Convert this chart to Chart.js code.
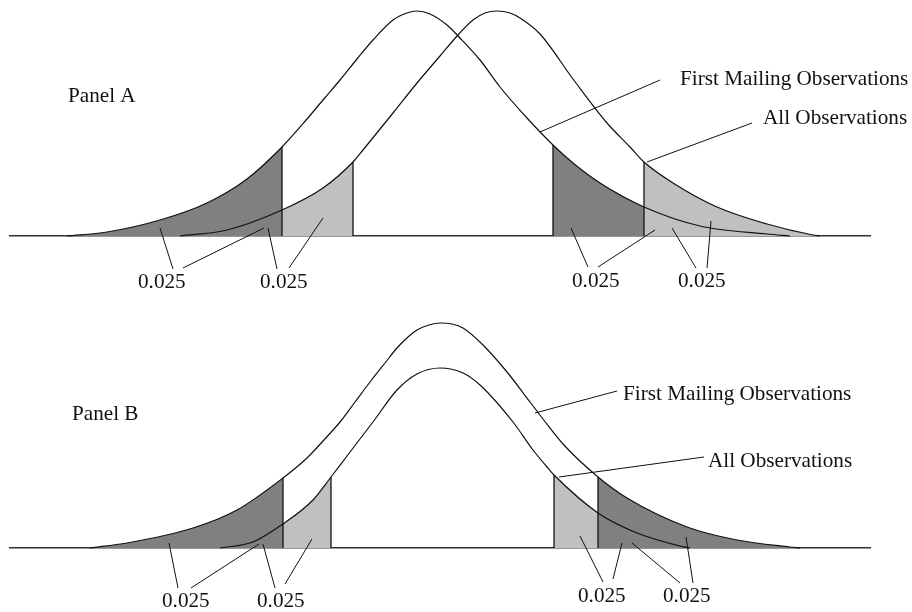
<!DOCTYPE html>
<html>
<head>
<meta charset="utf-8">
<script src="https://cdn.jsdelivr.net/npm/chart.js@4.4.1/dist/chart.umd.min.js"></script>
<style>
  html, body { margin: 0; padding: 0; background: #fff; }
  canvas { position: absolute; left: 0; }
</style>
</head>
<body>
<canvas id="panelA" width="912" height="300" style="top:0px"></canvas>
<canvas id="panelB" width="912" height="300" style="top:312px"></canvas>
<script>
// curve heights, [x, height above baseline]
const firstMailingA = [[67, 0], [107, 4], [160, 16], [207, 33], [247, 57], [282, 89], [307, 117], [323, 136],
  [340, 156], [357, 177], [373, 196], [393, 216], [407, 223], [417, 225], [430, 222], [447, 211], [460, 198],
  [480, 176], [500, 149], [527, 118], [553, 91], [573, 73], [600, 53], [644, 29], [700, 10], [767, 2], [790, 0]];
const allObsA = [[180, 0], [227, 6], [282, 26], [323, 48], [353, 74], [363, 86], [393, 123], [417, 153],
  [440, 180], [458, 201], [473, 216], [485, 223], [497, 225], [510, 223], [520, 218], [540, 202], [573, 157],
  [607, 113], [630, 89], [644, 74], [673, 53], [717, 29], [767, 12], [813, 1], [820, 0]];
const firstMailingB = [[90, 0], [127, 5], [193, 20], [237, 38], [283, 70], [307, 90], [323, 107], [340, 126],
  [355, 146], [370, 166], [385, 185], [397, 200], [408, 211], [417, 218], [429, 223], [440, 225], [452, 224],
  [463, 220], [483, 203], [507, 176], [530, 146], [543, 129], [563, 104], [598, 71], [627, 50], [687, 21],
  [737, 8], [790, 1], [800, 0]];
const allObsB = [[220, 0], [253, 6], [283, 24], [313, 48], [331, 71], [347, 92], [363, 113], [373, 126],
  [397, 158], [417, 174], [440, 180], [463, 175], [480, 163], [513, 126], [533, 98], [547, 81], [554, 73],
  [598, 35], [637, 15], [680, 2], [690, 0]];

// critical values (edges of the 0.025 tails)
const cutsA = { first: [282, 553], all: [353, 644] };
const cutsB = { first: [283, 598], all: [331, 554] };

const panelNames = ['Panel A', 'Panel B'];
const seriesNames = ['First Mailing Observations', 'All Observations'];
const tailLabel = '0.025';

const DARK = '#808080';
const LIGHT = '#c0c0c0';
const INK = '#111';

const segment = (pts, from, to) => pts.filter(p => p[0] >= from && p[0] <= to).map(([x, y]) => ({ x, y }));
const heightAt = (pts, x) => pts.find(p => p[0] === x)[1];

const callouts = {
  id: 'callouts',
  afterDatasetsDraw(chart, args, opts) {
    const { ctx, scales: { x, y } } = chart;
    ctx.save();
    ctx.strokeStyle = INK;
    ctx.lineWidth = 1;
    opts.leaders.forEach(([x1, y1, x2, y2]) => {
      ctx.beginPath();
      ctx.moveTo(x.getPixelForValue(x1), y.getPixelForValue(y1));
      ctx.lineTo(x.getPixelForValue(x2), y.getPixelForValue(y2));
      ctx.stroke();
    });
    ctx.font = '21.2px "Liberation Serif", "Times New Roman", serif';
    ctx.fillStyle = INK;
    ctx.textBaseline = 'alphabetic';
    opts.texts.forEach(([t, tx, ty]) => ctx.fillText(t, x.getPixelForValue(tx), y.getPixelForValue(ty)));
    ctx.restore();
  }
};

function curveSet(pts) {
  return {
    data: pts.map(([x, y]) => ({ x, y })),
    borderColor: INK,
    borderWidth: 1.2,
    pointRadius: 0,
    cubicInterpolationMode: 'monotone',
    fill: false,
    clip: false,
    order: 1
  };
}

function fillSet(pts, from, to, color) {
  return {
    data: segment(pts, from, to),
    borderColor: 'rgba(0,0,0,0)',
    borderWidth: 0,
    backgroundColor: color,
    pointRadius: 0,
    cubicInterpolationMode: 'monotone',
    fill: 'origin',
    clip: false,
    order: 3
  };
}

function edgeSet(pts, x) {
  return {
    data: [{ x, y: 0 }, { x, y: heightAt(pts, x) }],
    borderColor: INK,
    borderWidth: 1.3,
    pointRadius: 0,
    fill: false,
    clip: false,
    order: 2
  };
}

function makePanel(id, datasets, notes) {
  return new Chart(document.getElementById(id), {
    type: 'line',
    data: { datasets },
    options: {
      responsive: false,
      animation: false,
      layout: { padding: { left: 10, right: 42, top: 0, bottom: 64 } },
      plugins: { legend: { display: false }, tooltip: { enabled: false }, callouts: notes },
      scales: {
        x: {
          type: 'linear', min: 10, max: 870,
          grid: { display: false, drawTicks: false },
          ticks: { display: false },
          border: { display: true, color: '#333', width: 1.5 }
        },
        y: { min: 0, max: 236, display: false }
      }
    },
    plugins: [callouts]
  });
}

makePanel('panelA', [
  curveSet(firstMailingA),
  curveSet(allObsA),
  edgeSet(firstMailingA, cutsA.first[0]),
  edgeSet(allObsA, cutsA.all[0]),
  edgeSet(firstMailingA, cutsA.first[1]),
  edgeSet(allObsA, cutsA.all[1]),
  fillSet(firstMailingA, 0, cutsA.first[0], DARK),
  fillSet(allObsA, cutsA.first[0], cutsA.all[0], LIGHT),
  fillSet(firstMailingA, cutsA.first[1], cutsA.all[1], DARK),
  fillSet(allObsA, cutsA.all[1], 912, LIGHT)
], {
  leaders: [
    [660, 156, 540, 104], [752, 113, 647, 74],
    [173, -33, 160, 8], [183, -32, 264, 8], [277, -33, 268, 8], [289, -32, 323, 18],
    [588, -31, 571, 8], [598, -31, 655, 6], [696, -32, 672, 8], [707, -32, 711, 15]
  ],
  texts: [
    [panelNames[0], 68, 134], [seriesNames[0], 680, 151], [seriesNames[1], 763, 112],
    [tailLabel, 138, -52], [tailLabel, 260, -52], [tailLabel, 572, -51], [tailLabel, 678, -51]
  ]
});

makePanel('panelB', [
  curveSet(firstMailingB),
  curveSet(allObsB),
  edgeSet(firstMailingB, cutsB.first[0]),
  edgeSet(allObsB, cutsB.all[0]),
  edgeSet(allObsB, cutsB.all[1]),
  edgeSet(firstMailingB, cutsB.first[1]),
  fillSet(firstMailingB, 0, cutsB.first[0], DARK),
  fillSet(allObsB, cutsB.first[0], cutsB.all[0], LIGHT),
  fillSet(allObsB, cutsB.all[1], cutsB.first[1], LIGHT),
  fillSet(firstMailingB, cutsB.first[1], 912, DARK)
], {
  leaders: [
    [617, 157, 535, 135], [704, 91, 559, 71],
    [178, -40, 169, 5], [191, -40, 259, 4], [275, -40, 263, 4], [285, -36, 312, 9],
    [603, -34, 580, 12], [613, -31, 622, 5], [680, -35, 632, 5], [693, -35, 686, 11]
  ],
  texts: [
    [panelNames[1], 72, 128], [seriesNames[0], 623, 148], [seriesNames[1], 708, 81],
    [tailLabel, 162, -59], [tailLabel, 257, -59], [tailLabel, 578, -54], [tailLabel, 663, -54]
  ]
});
</script>
</body>
</html>
